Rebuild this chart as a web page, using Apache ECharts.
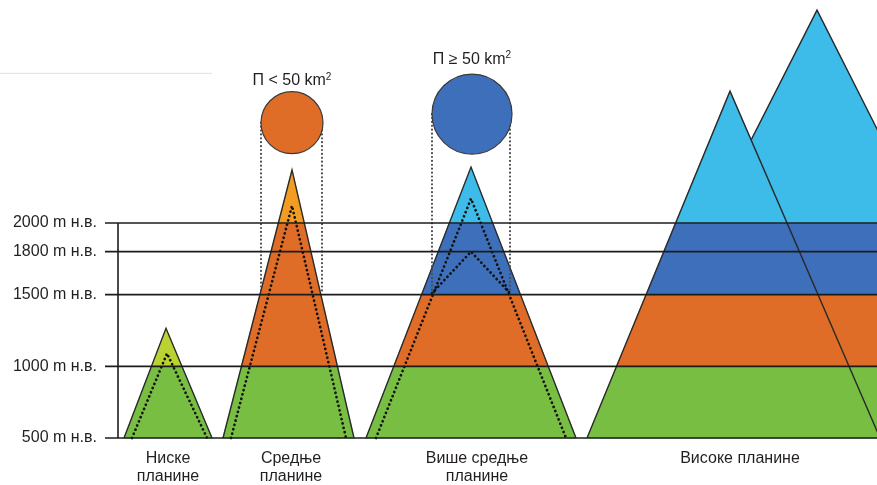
<!DOCTYPE html>
<html>
<head>
<meta charset="utf-8">
<script src="https://cdn.jsdelivr.net/npm/echarts@6/dist/echarts.min.js"></script>
<style>html,body{margin:0;padding:0;background:#fff}#c{width:877px;height:485px}</style>
</head>
<body>
<div id="c"></div>
<script>
// ---- data ----
const levels = [500, 1000, 1500, 1800, 2000];
const tickLabels = ['500 m н.в.', '1000 m н.в.', '1500 m н.в.', '1800 m н.в.', '2000 m н.в.'];
const baseElev = 500;

const categoryLabels = ['Ниске\nпланине', 'Средње\nпланине', 'Више средње\nпланине', 'Високе планине'];
const categoryX = [168, 291, 477, 740];

// mountains (drawn in this order: back high peak before front high peak)
const mountainKind = ['low', 'mid', 'high', 'high', 'high'];
const baseLeft  = [124, 223, 366, 600, 587];
const baseRight = [212, 354, 576, 1033, 880];
const peakX     = [166, 292, 471, 817, 730];
const peakElev  = [1265, 2370, 2390, 3485, 2920];
const zoneBreaks = [500, 1000, 1500, 2000, 5000];

// dotted inner outlines
const dottedX    = [[132, 167, 207], [231, 292, 346], [376, 471, 566], [432, 471, 510]];
const dottedElev = [[500, 1090, 500], [500, 2120, 500], [500, 2170, 500], [1510, 1800, 1510]];

// area circles and their projections
const circleLabels = ['П < 50 km²', 'П ≥ 50 km²'];
const circleX = [292, 472];
const circleElev = [2700, 2760];
const projX = [[261, 322], [432, 510]];
const projTop = [2700, 2760];
const projBottom = [1520, 1510];

// ---- styles ----
const FONT = '"Liberation Sans", Arial, Helvetica, sans-serif';
const TEXT = '#231f20';
const C = {
  green: '#77be43', yg: '#bad332', orange: '#e06d27', tip: '#f29d22',
  blue: '#3e6fba', light: '#3dbce9'
};
const zoneColors = {
  low:  [C.green, C.yg, C.yg, C.yg],
  mid:  [C.green, C.orange, C.orange, C.tip],
  high: [C.green, C.orange, C.blue, C.light]
};
const RULE_X0 = 105, RULE_X1 = 877, AXIS_X = 118;

const chart = echarts.init(document.getElementById('c'), null, {renderer: 'canvas'});

function renderMountain(params, api) {
  const i = api.value(0);
  const L = baseLeft[i], R = baseRight[i], P = peakX[i], H = peakElev[i];
  const colors = zoneColors[mountainKind[i]];
  const xl = e => L + (P - L) * (e - baseElev) / (H - baseElev);
  const xr = e => R + (P - R) * (e - baseElev) / (H - baseElev);
  const children = [];
  for (let z = 0; z < zoneBreaks.length - 1; z++) {
    const lo = zoneBreaks[z];
    if (lo >= H) break;
    const hi = Math.min(zoneBreaks[z + 1], H);
    const pts = [[xl(lo), lo], [xr(lo), lo], [xr(hi), hi], [xl(hi), hi]].map(p => api.coord(p));
    children.push({type: 'polygon', z2: i * 10, shape: {points: pts},
      style: {fill: colors[z], stroke: colors[z], lineWidth: 0.6}});
  }
  children.push({type: 'polyline', z2: i * 10 + 5,
    shape: {points: [[L, baseElev], [P, H], [R, baseElev]].map(p => api.coord(p))},
    style: {fill: null, stroke: '#2a2a2a', lineWidth: 1.4}});
  return {type: 'group', children};
}

function renderDotted(params, api) {
  const i = api.value(0);
  const pts = dottedX[i].map((x, k) => api.coord([x, dottedElev[i][k]]));
  return {type: 'polyline', shape: {points: pts},
    style: {fill: null, stroke: '#111', lineWidth: 2.7, lineDash: [0.1, 4.4], lineCap: 'round'}};
}

function renderProj(params, api) {
  const i = api.value(0);
  return {type: 'group', children: projX[i].map(x => {
    const a = api.coord([x, projTop[i]]), b = api.coord([x, projBottom[i]]);
    return {type: 'line', shape: {x1: a[0], y1: a[1], x2: b[0], y2: b[1]},
      style: {stroke: '#4a4a4a', lineWidth: 2.1, lineDash: [0.1, 3.8], lineCap: 'round'}};
  })};
}

function renderRule(params, api) {
  const lvl = api.value(0);
  const a = api.coord([RULE_X0, lvl]), b = api.coord([RULE_X1, lvl]);
  return {type: 'line', shape: {x1: a[0], y1: a[1], x2: b[0], y2: b[1]},
    style: {stroke: '#1c1c1c', lineWidth: 1.6}};
}

function renderAxisLine(params, api) {
  const a = api.coord([AXIS_X, levels[0]]), b = api.coord([AXIS_X, levels[levels.length - 1]]);
  return {type: 'line', shape: {x1: a[0], y1: a[1], x2: b[0], y2: b[1]},
    style: {stroke: '#1c1c1c', lineWidth: 1.6}};
}

function renderCategory(params, api) {
  const i = api.value(0);
  const p = api.coord([categoryX[i], baseElev]);
  return {type: 'text', x: p[0], y: p[1] + 12, style: {
    text: categoryLabels[i], align: 'center', verticalAlign: 'top',
    font: '16px ' + FONT, fill: TEXT, lineHeight: 18}};
}

const idx = arr => arr.map((_, i) => [i]);

chart.setOption({
  animation: false,
  backgroundColor: '#fff',
  grid: {left: 0, right: 0, top: 8, bottom: 4, outerBoundsMode: 'none'},
  xAxis: {type: 'value', min: 0, max: 877, show: false},
  yAxis: {
    type: 'value', min: 200, max: 3500, offset: -AXIS_X,
    axisLine: {show: false}, axisTick: {show: false}, splitLine: {show: false},
    axisLabel: {
      customValues: levels,
      formatter: v => tickLabels[levels.indexOf(v)] || '',
      margin: 21, fontSize: 16, color: TEXT, fontFamily: FONT
    }
  },
  series: [
    {type: 'custom', z: 2, data: idx(peakX), renderItem: renderMountain, silent: true},
    {type: 'custom', z: 3, data: idx(dottedX), renderItem: renderDotted, silent: true},
    {type: 'custom', z: 3, data: idx(projX), renderItem: renderProj, silent: true},
    {type: 'custom', z: 4, data: levels.map(v => [v]), renderItem: renderRule, silent: true},
    {type: 'custom', z: 4, data: [[0]], renderItem: renderAxisLine, silent: true},
    {type: 'custom', z: 1, data: [[3044]], silent: true, renderItem: (p, api) => {
      const a = api.coord([0, api.value(0)]), b = api.coord([212, api.value(0)]);
      return {type: 'line', shape: {x1: a[0], y1: a[1], x2: b[0], y2: b[1]}, style: {stroke: '#e2e2e2', lineWidth: 1}};
    }},
    {type: 'custom', z: 5, data: idx(categoryLabels), renderItem: renderCategory, silent: true},
    {
      type: 'scatter', z: 6, silent: true,
      data: circleX.map((x, i) => ({
        value: [x, circleElev[i]],
        symbolSize: i === 0 ? 62 : 80,
        itemStyle: {color: i === 0 ? C.orange : C.blue},
        label: {distance: i === 0 ? 1 : 5}
      })),
      itemStyle: {borderColor: '#3a3a3a', borderWidth: 1.2, opacity: 1},
      label: {
        show: true, position: 'top',
        formatter: p => '{a|' + circleLabels[p.dataIndex].replace('²', '') + '}{s|2}',
        rich: {
          a: {fontSize: 16, lineHeight: 18, color: TEXT, fontFamily: FONT},
          s: {fontSize: 10, lineHeight: 10, verticalAlign: 'top', color: TEXT, fontFamily: FONT}
        }
      }
    }
  ]
});
</script>
</body>
</html>
